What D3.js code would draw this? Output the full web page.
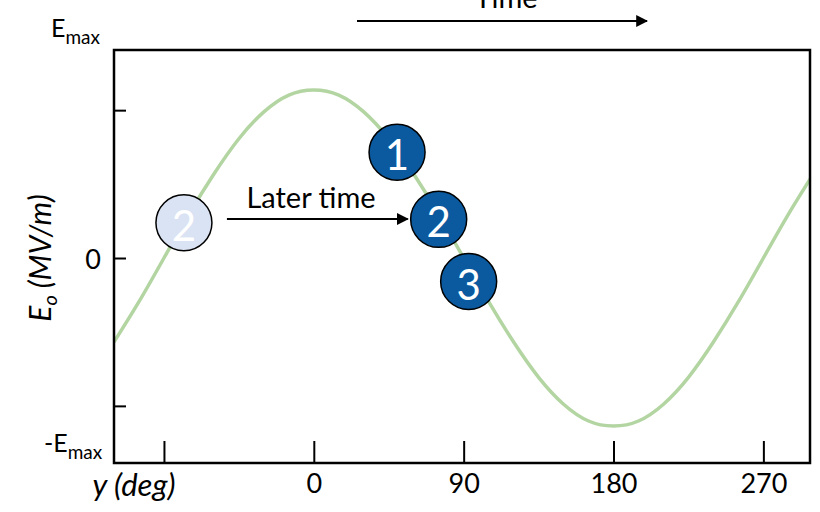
<!DOCTYPE html>
<html>
<head>
    <title>Wave snapshot</title>
</head>
<body>
<style type="text/css">
    body {
        margin: 0;
        background: #fff;
    }

    #renderer {
        width: 820px;
        height: 512px;
        background: #FFF;
        display: block;
    }

    text {
        font-family: Lato, "Open Sans", sans-serif;
    }
</style>
<script type="text/javascript" src="https://cdnjs.cloudflare.com/ajax/libs/d3/7.8.5/d3.min.js"></script>
<svg id='renderer'></svg>

<script type="text/javascript">
    // phase (deg) and field value, amplitude = 1
    var phaseDeg = [-120, -105, -90, -75, -60, -45, -30, -15, 0, 15, 30, 45, 60, 75, 90, 105,
        120, 135, 150, 165, 180, 195, 210, 225, 240, 255, 270, 285, 300];
    var fieldValue = [-0.50, -0.26, 0.00, 0.26, 0.50, 0.71, 0.87, 0.97, 1.00, 0.97, 0.87, 0.71, 0.50, 0.26, 0.00, -0.26,
        -0.50, -0.71, -0.87, -0.97, -1.00, -0.97, -0.87, -0.71, -0.50, -0.26, 0.00, 0.26, 0.50];

    // x axis ticks (the first one has no number, the axis title sits there)
    var xTicks = [-90, 0, 90, 180, 270];
    var xTickLabels = ['', '0', '90', '180', '270'];

    // y axis ticks
    var yTicks = [-0.88, 0, 0.88];

    // markers on the wave: label, phase, value, faded or not
    var markerLabels = ['2', '1', '2', '3'];
    var markerPhase = [-78, 50, 75, 93];
    var markerValue = [0.21, 0.63, 0.23, -0.14];
    var markerFaded = [true, false, false, false];

    var root = d3.select('#renderer');

    var plotLeft = 114, plotRight = 810, plotTop = 50, plotBottom = 463;

    var x = d3.scaleLinear().domain([-120, 298]).range([plotLeft, plotRight]);
    var y = d3.scaleLinear().domain([-1.22, 1.238]).range([plotBottom, plotTop]);

    // clip for the wave so it stops at the frame
    root.append('clipPath').attr('id', 'plotClip')
        .append('rect')
        .attr('x', plotLeft).attr('y', plotTop)
        .attr('width', plotRight - plotLeft).attr('height', plotBottom - plotTop);

    // the wave
    var points = phaseDeg.map(function (d, i) { return [d, fieldValue[i]]; });
    var line = d3.line()
        .x(function (d) { return x(d[0]); })
        .y(function (d) { return y(d[1]); })
        .curve(d3.curveNatural);

    root.append('path')
        .datum(points)
        .attr('clip-path', 'url(#plotClip)')
        .attr('d', line)
        .attr('fill', 'none')
        .attr('stroke', '#b3d5a2')
        .attr('stroke-width', 3.5);

    // frame
    root.append('rect')
        .attr('x', plotLeft).attr('y', plotTop)
        .attr('width', plotRight - plotLeft).attr('height', plotBottom - plotTop)
        .attr('fill', 'none')
        .attr('stroke', '#000')
        .attr('stroke-width', 2.5);

    // bottom axis, ticks pointing into the frame
    var xAxis = d3.axisBottom(x)
        .tickValues(xTicks)
        .tickSize(-22)
        .tickFormat(function (d, i) { return xTickLabels[i]; });
    var gx = root.append('g')
        .attr('transform', 'translate(0,' + plotBottom + ')')
        .call(xAxis);
    gx.select('.domain').remove();
    gx.selectAll('.tick line').attr('stroke', '#000').attr('stroke-width', 2);
    gx.selectAll('.tick text')
        .attr('y', 11)
        .attr('font-size', 27)
        .attr('font-family', 'Lato, sans-serif')
        .attr('fill', '#000');

    // left axis, ticks pointing into the frame, no numbers from the axis
    var yAxis = d3.axisLeft(y)
        .tickValues(yTicks)
        .tickSize(-12)
        .tickFormat('');
    var gy = root.append('g')
        .attr('transform', 'translate(' + plotLeft + ',0)')
        .call(yAxis);
    gy.select('.domain').remove();
    gy.selectAll('.tick line').attr('stroke', '#000').attr('stroke-width', 2);

    // y labels
    root.append('text')
        .text('0')
        .attr('x', 101).attr('y', y(0))
        .attr('font-size', 27)
        .attr('text-anchor', 'end')
        .attr('dominant-baseline', 'central');

    var eMax = root.append('text')
        .attr('x', 51).attr('y', 37)
        .attr('font-size', 25);
    eMax.append('tspan').text('E');
    eMax.append('tspan').text('max').attr('font-size', 19).attr('dy', 7);

    var eMin = root.append('text')
        .attr('x', 44).attr('y', 452)
        .attr('font-size', 25);
    eMin.append('tspan').text('-E');
    eMin.append('tspan').text('max').attr('font-size', 19).attr('dy', 7);

    // axis titles
    var yTitle = root.append('text')
        .attr('transform', 'translate(51,' + y(0) + ') rotate(-90)')
        .attr('text-anchor', 'middle')
        .attr('font-size', 30)
        .attr('font-style', 'italic');
    yTitle.append('tspan').text('E');
    yTitle.append('tspan').text('o').attr('font-size', 20).attr('dy', 6);
    yTitle.append('tspan').text(' (MV/m)').attr('dy', -6);

    root.append('text')
        .text('y (deg)')
        .attr('x', 134).attr('y', 496)
        .attr('text-anchor', 'middle')
        .attr('font-size', 31)
        .attr('font-style', 'italic');

    // arrowhead
    root.append('defs').append('marker')
        .attr('id', 'head')
        .attr('viewBox', '0 0 10 10')
        .attr('refX', 9).attr('refY', 5)
        .attr('markerWidth', 6).attr('markerHeight', 6)
        .attr('markerUnits', 'strokeWidth')
        .attr('orient', 'auto')
        .append('path')
        .attr('d', 'M0,0 L10,5 L0,10 Z')
        .attr('fill', '#000');

    // "Time" arrow at the top
    root.append('line')
        .attr('x1', 357).attr('y1', 21)
        .attr('x2', 647).attr('y2', 21)
        .attr('stroke', '#000').attr('stroke-width', 2)
        .attr('marker-end', 'url(#head)');
    root.append('text')
        .text('Time')
        .attr('x', 506).attr('y', 8)
        .attr('text-anchor', 'middle')
        .attr('font-size', 29);

    // "Later time" arrow between the two positions of marker 2
    root.append('line')
        .attr('x1', x(markerPhase[0]) + 43).attr('y1', 219)
        .attr('x2', x(markerPhase[2]) - 31).attr('y2', 219)
        .attr('stroke', '#000').attr('stroke-width', 2)
        .attr('marker-end', 'url(#head)');
    root.append('text')
        .text('Later time')
        .attr('x', 311).attr('y', 208)
        .attr('text-anchor', 'middle')
        .attr('font-size', 29);

    // markers
    for (var i = 0; i < markerLabels.length; i++) {
        var cx = x(markerPhase[i]);
        var cy = y(markerValue[i]);
        root.append('circle')
            .attr('cx', cx).attr('cy', cy)
            .attr('r', 28)
            .attr('fill', markerFaded[i] ? '#dae3f3' : '#0b5a9f')
            .attr('stroke', '#000')
            .attr('stroke-width', 1.5);
        root.append('text')
            .text(markerLabels[i])
            .attr('x', cx).attr('y', cy + 2)
            .attr('text-anchor', 'middle')
            .attr('dominant-baseline', 'central')
            .attr('font-size', 42)
            .attr('fill', '#fff');
    }
</script>
</body>
</html>
